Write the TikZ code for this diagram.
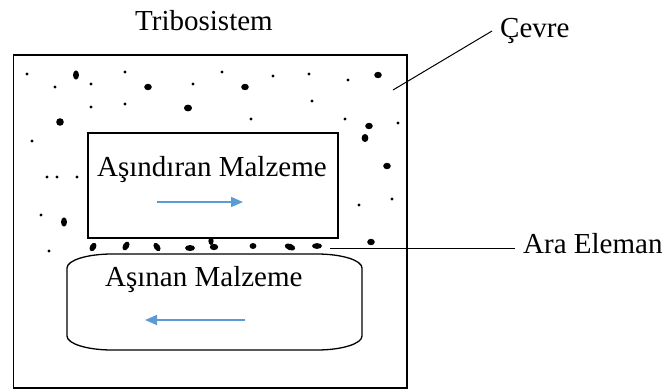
\documentclass[tikz,border=0pt]{standalone}
\usepackage{fontspec}
\setmainfont{Liberation Serif}
\usetikzlibrary{arrows.meta}
\definecolor{flowblue}{HTML}{5B9BD5}
\tikzset{
  lbl/.style={inner sep=0pt, anchor=base west, font=\fontsize{29}{34}\selectfont},
  frame/.style={draw=black, line width=1.4pt, inner sep=0pt},
  leader/.style={draw=black, line width=1pt},
  motion/.style={draw=flowblue, line width=1.6pt, -{Triangle[length=12pt,width=10pt]}},
  speck/.style={fill=black, draw=none},
}
\begin{document}
\begin{tikzpicture}[x=1pt,y=-1pt]
\useasboundingbox (0,0) rectangle (668,391);
% system boundary and abrasive body
\node[frame, minimum width=393.5pt, minimum height=333pt] (sys) at (210.25,221.5) {};
\node[frame, minimum width=250pt, minimum height=105pt] (top) at (213,185.5) {};
% worn body with soft corners
\draw[line width=1.3pt] (112,254) -- (317,254)
  arc[start angle=90,end angle=0,x radius=45pt,y radius=14pt] -- (362,336)
  arc[start angle=0,end angle=-90,x radius=45pt,y radius=14pt] -- (112,350)
  arc[start angle=-90,end angle=-180,x radius=45pt,y radius=14pt] -- (67,268)
  arc[start angle=180,end angle=90,x radius=45pt,y radius=14pt] -- cycle;
% labels
\node[lbl] (title) at (135,30) {Tribosistem};
\node[lbl] (cevre) at (500,37) {Çevre};
\node[lbl] (ara) at (523,253) {Ara Eleman};
\node[lbl] (abr) at (97,176) {Aşındıran Malzeme};
\node[lbl] (wrn) at (105,286) {Aşınan Malzeme};
% motion arrows
\coordinate (a1) at (157,202); \coordinate (a2) at (243,202);
\coordinate (b1) at (245,320); \coordinate (b2) at (145,320);
\draw[motion] (a1) -- (a2);
\draw[motion] (b1) -- (b2);
% leader lines
\coordinate (cv) at (393,90);
\coordinate (ae) at (330,248);
\draw[leader] (cv) -- ([shift={(-8,-6)}]cevre.base west);
\draw[leader] (ae) -- ([xshift=-8pt]ae -| ara.west);
% fine particles
\foreach \p in {(27,74),(55,87),(91,84),(125,72),(91,107),(125,104),(193,84),
  (222,72),(273,76),(309,74),(348,80),(312,101),(251,119),(345,119),(398,123),
  (32,141),(47,177),(57,177),(77,177),(41,215),(49,251),(359,205),(392,199)}
  \fill[speck] \p circle[radius=1.7pt];
% coarse particles
\foreach \p in {(148,87),(245,87),(378,75),(369,126),(387,166),(371,242)}
  \fill[speck] \p ellipse[x radius=3.8pt,y radius=3.2pt];
\fill[speck] (76,75) ellipse[x radius=3pt,y radius=4.6pt];
\fill[speck] (64,222) ellipse[x radius=3pt,y radius=4.6pt];
\fill[speck] (188,108) ellipse[x radius=4pt,y radius=3.4pt];
\fill[speck] (60,122) ellipse[x radius=3.8pt,y radius=3.8pt];
\fill[speck] (365,138) ellipse[x radius=3.4pt,y radius=4pt];
% third-body particles between the two surfaces
\fill[speck,rotate around={60:(93,247)}] (93,247) ellipse[x radius=4.6pt,y radius=3pt];
\fill[speck,rotate around={60:(126,246)}] (126,246) ellipse[x radius=4.8pt,y radius=3pt];
\fill[speck,rotate around={-55:(157,247)}] (157,247) ellipse[x radius=4.6pt,y radius=2.9pt];
\fill[speck] (190,248) ellipse[x radius=5pt,y radius=3pt];
\fill[speck] (211,241) ellipse[x radius=2.6pt,y radius=4pt];
\fill[speck] (214,247) ellipse[x radius=4.2pt,y radius=3.2pt];
\fill[speck] (253,246) ellipse[x radius=3.4pt,y radius=3pt];
\fill[speck,rotate around={-20:(290,247)}] (290,247) ellipse[x radius=5.5pt,y radius=3.2pt];
\fill[speck] (317,246) ellipse[x radius=5pt,y radius=2.9pt];
\end{tikzpicture}
\end{document}
